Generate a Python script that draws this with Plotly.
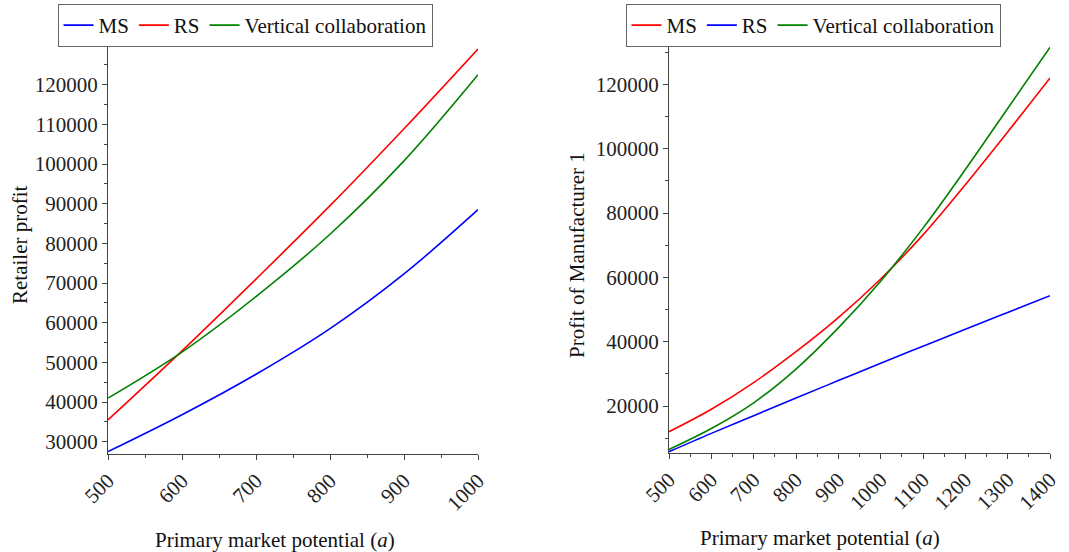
import plotly.graph_objects as go

# ---- Data: left panel (Retailer profit) ----
a_left = [500, 600, 700, 800, 900, 1000]
ret_ms = [27500, 36800, 47000, 58500, 72300, 88500]
ret_rs = [35500, 52900, 71000, 89500, 108900, 129000]
ret_vc = [41000, 52600, 66600, 82300, 100800, 122500]

# ---- Data: right panel (Profit of Manufacturer 1) ----
a_right = [500, 600, 700, 800, 900, 1000, 1100, 1200, 1300, 1400]
m1_ms = [12000, 19000, 27300, 36900, 47500, 59500, 73200, 88800, 105200, 122000]
m1_rs = [5800, 11500, 17000, 22500, 27900, 33300, 38600, 43900, 49100, 54300]
m1_vc = [6500, 13000, 21000, 31500, 44300, 58800, 75300, 93500, 112500, 131500]

left_ticks_x = [500, 600, 700, 800, 900, 1000]
right_ticks_x = [500, 600, 700, 800, 900, 1000, 1100, 1200, 1300, 1400]

BLUE = "#0000ff"
RED = "#ff0000"
GREEN = "#008000"
FONT = "Liberation Serif"
W, H = 1069, 552

fig = go.Figure()

def add(x, y, name, color, xa, ya, legend):
    fig.add_trace(go.Scatter(x=x, y=y, mode="lines", name=name,
                             line=dict(color=color, width=1.6, shape="spline", smoothing=1.0),
                             xaxis=xa, yaxis=ya, legend=legend))

add(a_left, ret_ms, "MS", BLUE, "x", "y", "legend")
add(a_left, ret_rs, "RS", RED, "x", "y", "legend")
add(a_left, ret_vc, "Vertical collaboration", GREEN, "x", "y", "legend")

add(a_right, m1_ms, "MS", RED, "x2", "y2", "legend2")
add(a_right, m1_rs, "RS", BLUE, "x2", "y2", "legend2")
add(a_right, m1_vc, "Vertical collaboration", GREEN, "x2", "y2", "legend2")

axcol = "#444444"
common = dict(showline=True, linecolor=axcol, linewidth=1.2, ticks="outside",
              tickcolor=axcol, ticklen=5, showgrid=False, zeroline=False,
              automargin=False,
              tickfont=dict(family=FONT, size=21, color="#222222"))

def px_x(p):
    return p / W

def px_y(p):
    return (H - p) / H

leg_font = dict(family=FONT, size=21, color="#111111")

fig.update_layout(
    width=W, height=H,
    margin=dict(l=0, r=0, t=0, b=0, autoexpand=False),
    paper_bgcolor="white", plot_bgcolor="white",
    showlegend=True,
    xaxis=dict(domain=[px_x(108), px_x(478)], range=[500, 1000],
               tickvals=left_ticks_x, tickangle=-45, anchor="y",
               minor=dict(dtick=50, ticklen=3, tickcolor=axcol, ticks="outside"),
               **common),
    yaxis=dict(domain=[px_y(454), px_y(47)], range=[26900, 129500],
               dtick=10000, tickformat="d", anchor="x",
               minor=dict(dtick=5000, ticklen=3, tickcolor=axcol, ticks="outside"),
               **common),
    xaxis2=dict(domain=[px_x(669), px_x(1050)], range=[500, 1400],
                tickvals=right_ticks_x, tickangle=-45, anchor="y2",
                minor=dict(dtick=50, ticklen=3, tickcolor=axcol, ticks="outside"),
                **common),
    yaxis2=dict(domain=[px_y(453), px_y(47)], range=[5400, 131600],
                dtick=20000, tickformat="d", anchor="x2",
                minor=dict(dtick=10000, ticklen=3, tickcolor=axcol, ticks="outside"),
                **common),
    legend=dict(orientation="h", x=px_x(245), y=px_y(4), xanchor="center", yanchor="top",
                bordercolor="#666666", borderwidth=1, bgcolor="white",
                font=leg_font, itemwidth=30, tracegroupgap=0),
    legend2=dict(orientation="h", x=px_x(813), y=px_y(4), xanchor="center", yanchor="top",
                 bordercolor="#666666", borderwidth=1, bgcolor="white",
                 font=leg_font, itemwidth=30, tracegroupgap=0),
)

title_font = dict(family=FONT, size=21, color="#111111")
fig.add_annotation(text="Retailer profit", x=px_x(20), y=px_y(245), xref="paper", yref="paper",
                   textangle=-90, showarrow=False, font=title_font, xanchor="center", yanchor="middle")
fig.add_annotation(text="Profit of Manufacturer 1", x=px_x(577), y=px_y(255), xref="paper", yref="paper",
                   textangle=-90, showarrow=False, font=title_font, xanchor="center", yanchor="middle")
fig.add_annotation(text="Primary market potential (<i>a</i>)", x=px_x(275), y=px_y(540),
                   xref="paper", yref="paper", showarrow=False, font=title_font,
                   xanchor="center", yanchor="middle")
fig.add_annotation(text="Primary market potential (<i>a</i>)", x=px_x(820), y=px_y(538),
                   xref="paper", yref="paper", showarrow=False, font=title_font,
                   xanchor="center", yanchor="middle")

fig.write_html("out.html", config={"displayModeBar": False},
               post_script="document.body.style.margin='0';document.body.style.overflow='hidden';")
